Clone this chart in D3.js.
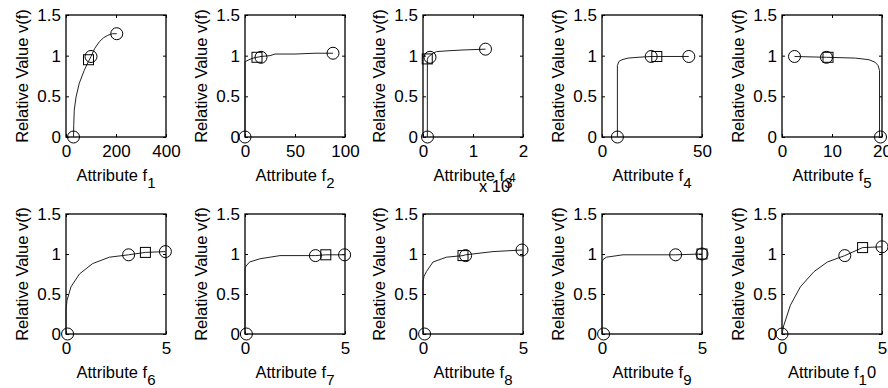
<!DOCTYPE html>
<html>
<head>
<meta charset="utf-8">
<script src="https://cdn.jsdelivr.net/npm/d3@7"></script>
<style>
  body { margin: 0; background: #fff; }
  text { font-family: "Liberation Sans", Arial, sans-serif; fill: #000; }
</style>
</head>
<body>
<div id="chart"></div>
<script>
// subscripts of the attribute labels (f_1 ... f_1 0 as in the figure)
var labelSubs = ["1", "2", "3", "4", "5", "6", "7", "8", "9", "1"];
var labelTails = ["", "", "", "", "", "", "", "", "", "0"];

// x domains and ticks for each panel
var xMax = [400, 100, 20000, 50, 20, 5, 5, 5, 5, 5];
var xTicks = [[0, 200, 400], [0, 50, 100], [0, 10000, 20000], [0, 50], [0, 10, 20],
  [0, 5], [0, 5], [0, 5], [0, 5], [0, 5]];
var xTickLabels = [["0", "200", "400"], ["0", "50", "100"], ["0", "1", "2"], ["0", "50"], ["0", "10", "20"],
  ["0", "5"], ["0", "5"], ["0", "5"], ["0", "5"], ["0", "5"]];
var yTicks = [0, 0.5, 1, 1.5];
var yTickLabels = ["0", "0.5", "1", "1.5"];

// value function curves, [x, v(x)]
var curves = [
  [[30, 0], [31, 0.15], [33, 0.33], [40, 0.49], [53, 0.66], [73, 0.82], [90, 0.93], [100, 0.99], [115, 1.09], [133, 1.17], [150, 1.22], [167, 1.25], [185, 1.27], [203, 1.27]],
  [[0, 0], [0, 0.925], [4, 0.95], [8, 0.97], [12, 0.98], [16, 0.99], [25, 1.0], [30, 1.02], [50, 1.02], [70, 1.03], [88, 1.03]],
  [[870, 0], [870, 0.95], [1000, 0.98], [1400, 1.0], [2000, 1.03], [2700, 1.05], [5000, 1.06], [8000, 1.07], [12500, 1.08]],
  [[7.7, 0], [7.7, 0.88], [8.5, 0.93], [10, 0.95], [13, 0.97], [18, 0.98], [24.6, 0.99], [43.4, 0.99]],
  [[2.5, 0.99], [8.9, 0.98], [14.7, 0.97], [17.4, 0.95], [18.6, 0.92], [19.2, 0.88], [19.5, 0.82], [19.5, 0], [19.7, 0]],
  [[0, 0], [0, 0.3], [0.05, 0.42], [0.25, 0.59], [0.67, 0.75], [1.33, 0.88], [2.17, 0.96], [3.13, 0.99], [3.97, 1.02], [4.97, 1.03]],
  [[0, 0], [0, 0.82], [0.05, 0.85], [0.23, 0.9], [0.74, 0.94], [1.75, 0.98], [3.52, 0.98], [4.04, 0.99], [4.98, 0.99]],
  [[0, 0], [0, 0.65], [0.05, 0.72], [0.17, 0.78], [0.5, 0.9], [1.17, 0.96], [2.0, 0.98], [2.13, 0.99], [3.5, 1.03], [4.95, 1.05]],
  [[0, 0], [0, 0.9], [0.05, 0.93], [0.22, 0.96], [1.05, 0.99], [3.68, 0.99], [5, 1.0]],
  [[0, 0], [0.08, 0.1], [0.42, 0.36], [0.92, 0.59], [1.6, 0.78], [2.27, 0.9], [3.14, 0.98], [4.03, 1.08], [5.0, 1.09]]
];

// circle markers and the square marker of each panel
var circles = [
  [[30, 0], [100, 0.99], [203, 1.27]],
  [[0, 0], [16, 0.98], [88, 1.03]],
  [[900, 0], [1400, 0.98], [12500, 1.08]],
  [[7.7, 0], [24.6, 0.99], [43.4, 0.99]],
  [[2.5, 0.99], [8.9, 0.98], [19.7, 0]],
  [[0.08, 0], [3.13, 0.99], [4.97, 1.03]],
  [[0.07, 0], [3.52, 0.98], [4.98, 0.99]],
  [[0.08, 0], [2.13, 0.98], [4.95, 1.05]],
  [[0.08, 0], [3.68, 0.99], [5.0, 1.0]],
  [[0, 0], [3.14, 0.98], [5.0, 1.09]]
];
var squares = [[90, 0.95], [12, 0.98], [850, 0.96], [27.4, 0.99], [9.2, 0.98],
  [3.97, 1.02], [4.04, 0.99], [2.0, 0.98], [5.0, 1.0], [4.03, 1.08]];

// layout
var lefts = [66, 245, 423, 602, 782];
var tops = [15, 214];
var heights = [122, 120];
var width = 100;

var svg = d3.select("#chart")
  .append("svg")
  .attr("width", 888)
  .attr("height", 388)
  .style("display", "block");

svg.append("rect").attr("width", 888).attr("height", 388).attr("fill", "#fff");

for (var i = 0; i < 10; i++) {
  var row = Math.floor(i / 5), col = i % 5;
  var height = heights[row];
  var g = svg.append("g")
    .attr("transform", "translate(" + lefts[col] + "," + tops[row] + ")");

  var x = d3.scaleLinear().domain([0, xMax[i]]).range([0, width]);
  var y = d3.scaleLinear().domain([0, 1.5]).range([height, 0]);

  // axes, ticks pointing inwards and mirrored on the top / right
  var tl = xTickLabels[i], tv = xTicks[i];
  var xAxis = d3.axisBottom(x).tickValues(tv).tickSize(-3).tickPadding(8)
    .tickFormat(function (d) { return tl[tv.indexOf(d)]; });
  var gx = g.append("g").attr("transform", "translate(0," + height + ")").call(xAxis);
  g.append("g").call(d3.axisTop(x).tickValues(tv).tickSize(-3).tickFormat(""));

  var yAxis = d3.axisLeft(y).tickValues(yTicks).tickSize(-3).tickPadding(5)
    .tickFormat(function (d) { return yTickLabels[yTicks.indexOf(d)]; });
  g.append("g").call(yAxis);
  g.append("g").attr("transform", "translate(" + width + ",0)")
    .call(d3.axisRight(y).tickValues(yTicks).tickSize(-3).tickFormat(""));

  g.selectAll(".domain").remove();
  g.selectAll(".tick line").attr("stroke", "#000");
  g.selectAll(".tick text").style("font-size", "17px")
    .style("font-family", "'Liberation Sans', Arial, sans-serif").attr("fill", "#000");
  gx.selectAll(".tick text").attr("dy", "0.71em");

  // box
  g.append("rect")
    .attr("width", width).attr("height", height)
    .attr("fill", "none").attr("stroke", "#000").attr("stroke-width", 1.3);

  // curve
  var line = d3.line()
    .x(function (d) { return x(d[0]); })
    .y(function (d) { return y(d[1]); });
  g.append("path")
    .datum(curves[i])
    .attr("d", line)
    .attr("fill", "none").attr("stroke", "#222").attr("stroke-width", 1);

  g.selectAll(".pt")
    .data(circles[i])
    .enter().append("circle")
    .attr("cx", function (d) { return x(d[0]); })
    .attr("cy", function (d) { return y(d[1]); })
    .attr("r", 6)
    .attr("fill", "none").attr("stroke", "#000").attr("stroke-width", 1);

  g.append("rect")
    .datum(squares[i])
    .attr("x", function (d) { return x(d[0]) - 5; })
    .attr("y", function (d) { return y(d[1]) - 5; })
    .attr("width", 10).attr("height", 10)
    .attr("fill", "none").attr("stroke", "#000").attr("stroke-width", 1);

  // y label
  g.append("text")
    .attr("transform", "translate(-38," + (height / 2) + ") rotate(-90)")
    .attr("text-anchor", "middle")
    .style("font-size", "16.5px")
    .text("Relative Value v(f)");

  // x label
  var xl = g.append("text")
    .attr("x", width / 2)
    .attr("y", height + 44)
    .attr("text-anchor", "middle")
    .style("font-size", "16.5px");
  xl.append("tspan").text("Attribute f");
  xl.append("tspan").attr("dy", 7).style("font-size", "15px").text(labelSubs[i]);
  if (labelTails[i]) xl.append("tspan").attr("dy", -7).text(labelTails[i]);

  // exponent of the third panel
  if (i === 2) {
    g.append("text").attr("x", 56).attr("y", height + 55).style("font-size", "16.5px").text("x 10");
    g.append("text").attr("x", 86).attr("y", height + 45).style("font-size", "12px").text("4");
  }
}
</script>
</body>
</html>
